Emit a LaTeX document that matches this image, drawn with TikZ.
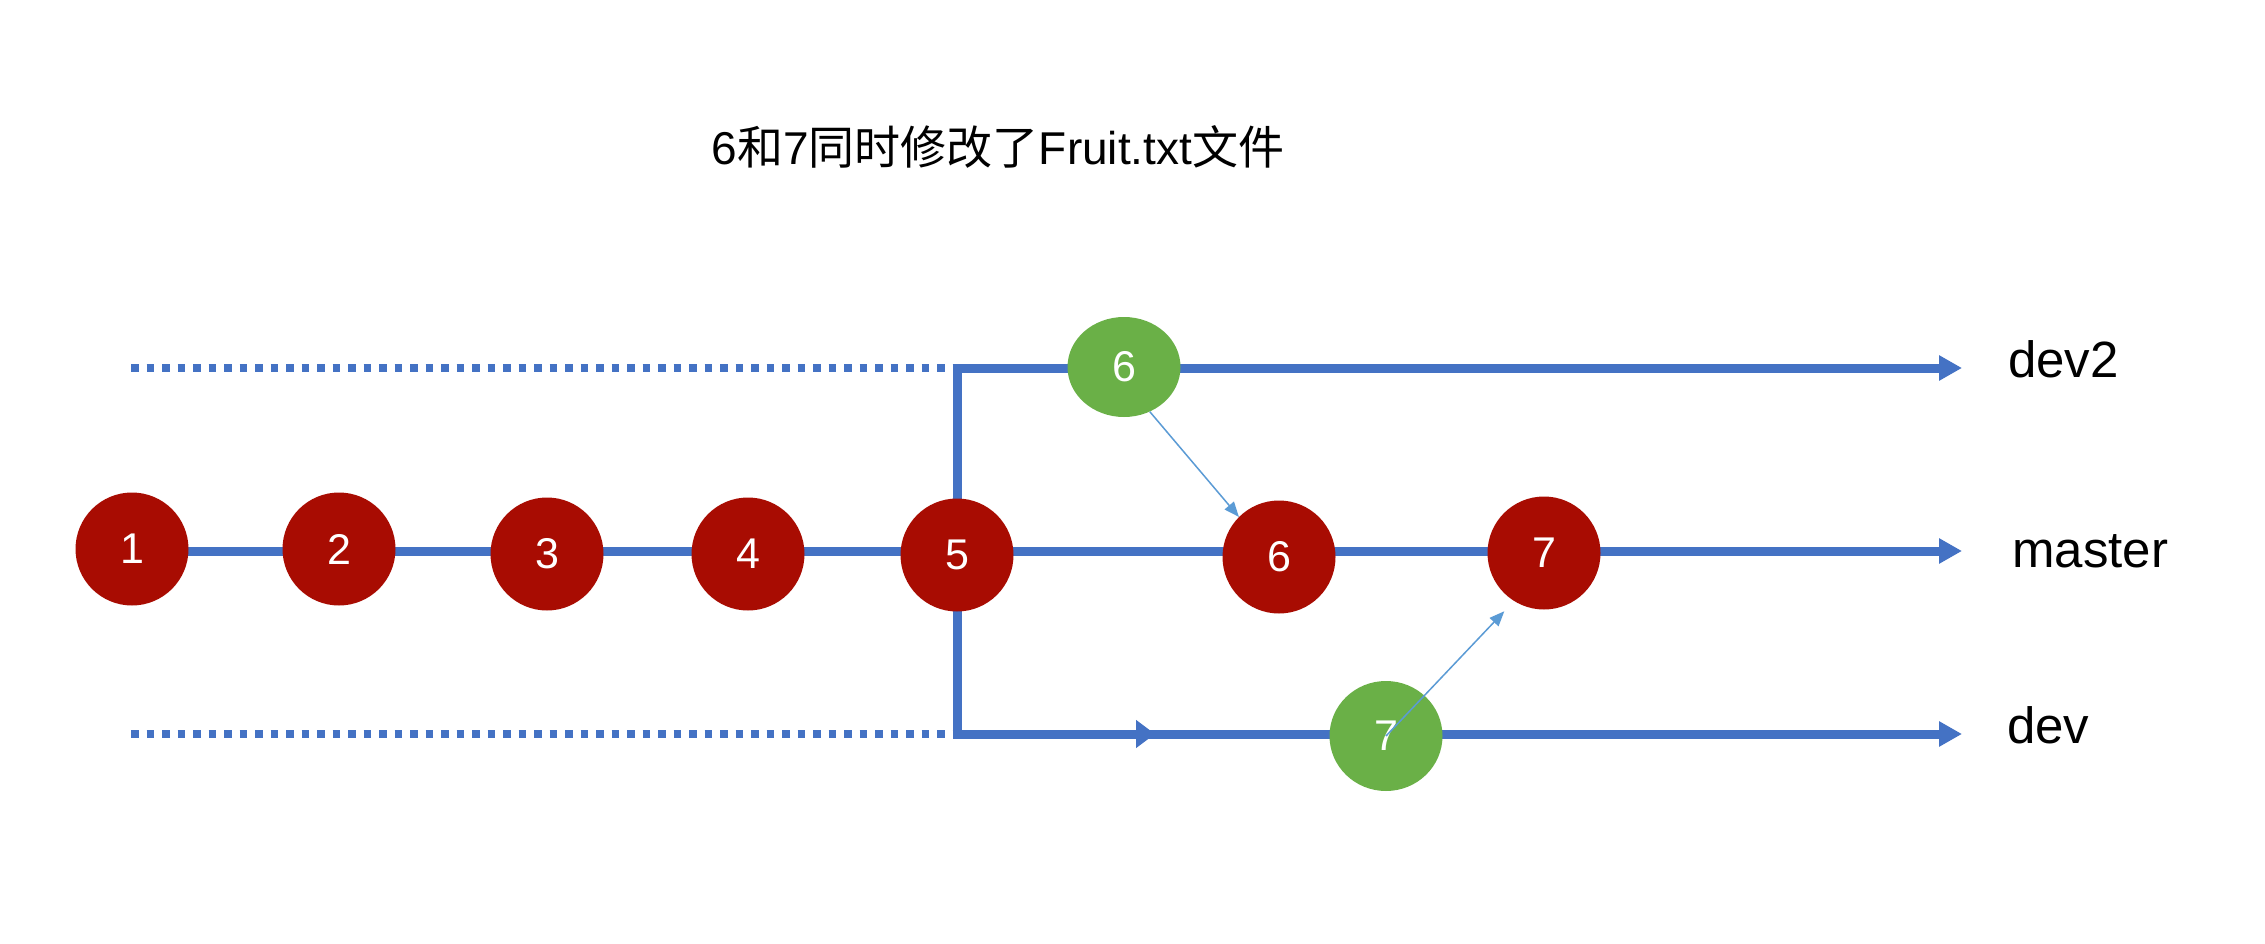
\documentclass[tikz,border=0pt]{standalone}
\usepackage{fontspec}
\setmainfont{Liberation Sans}
\newfontfamily\cjk{Noto Sans CJK SC}
\usetikzlibrary{arrows.meta,shapes.geometric}
\definecolor{cred}{RGB}{168,12,2}
\definecolor{cgreen}{RGB}{106,176,71}
\definecolor{cblue}{RGB}{68,114,196}
\definecolor{clight}{RGB}{91,155,213}
\tikzset{
  branch/.style={draw=cblue,line width=9pt},
  dotline/.style={draw=cblue,line width=7.5pt,dash pattern=on 7.7pt off 7.8pt},
  bigtip/.style={-{Triangle[length=23pt,width=24pt]}},
  midtip/.style={-{Triangle[length=19pt,width=27pt]}},
  commit/.style={circle,fill=cred,minimum size=113pt,inner sep=0pt,text=white,font=\fontsize{43}{50}\selectfont},
  gcommit/.style={ellipse,fill=cgreen,minimum width=113pt,inner sep=0pt,text=white,font=\fontsize{43}{50}\selectfont},
  thin/.style={draw=clight,line width=1.5pt,-{Triangle[length=15pt,width=12pt]}},
  lbl/.style={anchor=base west,inner sep=0pt,font=\fontsize{51}{60}\selectfont}
}
\begin{document}
\begin{tikzpicture}[x=1pt,y=-1pt]
\useasboundingbox[fill=white] (0,0) rectangle (2265,944);
% coordinates
\coordinate (d2a) at (131,368);
\coordinate (d2s) at (957,368);
\coordinate (d2e) at (1962,368);
\coordinate (ms) at (132,551);
\coordinate (me) at (1962,551);
\coordinate (dva) at (131,734);
\coordinate (dvs) at (957,734);
\coordinate (dvm) at (1155,734);
\coordinate (dve) at (1962,734);
% title
\node[anchor=base,inner sep=0pt,font=\fontsize{46}{55}\selectfont] (title) at (998,165)
  {6{\cjk 和}7{\cjk 同时修改了}Fruit.txt{\cjk 文件}};
% lines
\draw[dotline] (d2a) -- (d2s);
\draw[dotline] (dva) -- (dvs);
\draw[branch,bigtip] (dvs) -- (d2s) -- (d2e);
\draw[branch,bigtip] (d2s) -- (dvs) -- (dve);
\draw[branch,midtip] (dvs) -- (dvm);
\draw[branch,bigtip] (ms) -- (me);
% commits
\node[commit] (c1) at (132,549) {1};
\node[commit] (c2) at (339,549) {2};
\node[commit] (c3) at (547,554) {3};
\node[commit] (c4) at (748,554) {4};
\node[commit] (c5) at (957,555) {5};
\node[commit] (r6) at (1279,557) {6};
\node[commit] (r7) at (1544,553) {7};
\node[gcommit,minimum height=100pt] (g6) at (1124,367) {6};
\node[gcommit,minimum height=110pt] (g7) at (1386,736) {7};
% merge arrows
\draw[thin] (g6.-60) -- (r6.135);
\draw[thin,shorten >=14pt] (g7.center) -- (r7.238);
% labels
\node[lbl] (ldev2) at (2008,377) {dev2};
\node[lbl] (lmaster) at (2012,567) {master};
\node[lbl] (ldev) at (2007,743) {dev};
\end{tikzpicture}
\end{document}
